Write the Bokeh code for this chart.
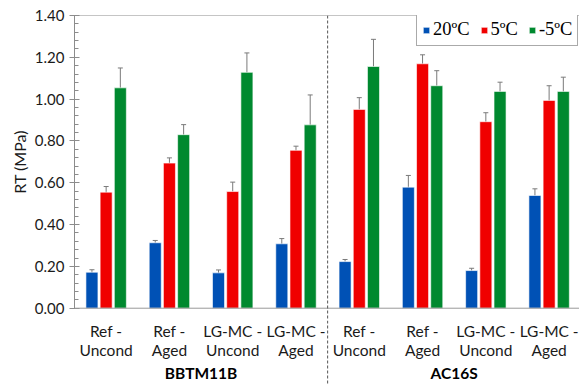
import numpy as np
from math import pi
from bokeh.plotting import figure
from bokeh.layouts import column, row
from bokeh.models import (ColumnDataSource, Whisker, TeeHead, Span, Range1d,
                          FixedTicker, NumeralTickFormatter)
from bokeh.core.properties import value
from bokeh.embed import file_html
from bokeh.resources import INLINE

# ---- data ----
groups = ["BBTM11B", "AC16S"]
conditions = ["Ref - Uncond", "Ref - Aged", "LG-MC - Uncond", "LG-MC - Aged",
              "Ref - Uncond", "Ref - Aged", "LG-MC - Uncond", "LG-MC - Aged"]
temps = ["20ºC", "5ºC", "-5ºC"]
rt_20 = [0.172, 0.313, 0.169, 0.308, 0.223, 0.579, 0.180, 0.539]
rt_5 = [0.555, 0.694, 0.558, 0.755, 0.951, 1.169, 0.892, 0.994]
rt_m5 = [1.054, 0.830, 1.128, 0.877, 1.156, 1.064, 1.037, 1.037]
err_20 = [0.012, 0.011, 0.014, 0.025, 0.010, 0.056, 0.011, 0.032]
err_5 = [0.027, 0.025, 0.045, 0.020, 0.056, 0.043, 0.043, 0.070]
err_m5 = [0.095, 0.048, 0.093, 0.143, 0.130, 0.072, 0.044, 0.068]
y_ticks = [0.0, 0.2, 0.4, 0.6, 0.8, 1.0, 1.2, 1.4]
y_minor = [round(i * 0.04, 2) for i in range(36)]
y_title = "RT (MPa)"

colors = ["#0051B5", "#F00000", "#00892F"]
series = [rt_20, rt_5, rt_m5]
errors = [err_20, err_5, err_m5]
y_max = y_ticks[-1]

x_range = Range1d(0, 7.98)

# ---- main plot ----
p = figure(width=549, height=320, output_backend="svg", toolbar_location=None,
           x_range=x_range, y_range=(-0.0588, y_max), x_axis_type=None,
           min_border_left=44, min_border_right=0, min_border_top=15,
           min_border_bottom=0)
p.outline_line_color = None
p.grid.visible = False

centers = np.arange(len(conditions)) + 0.5
offsets = [-0.2244, 0.0, 0.2244]
for vals, errs, col, off, lab in zip(series, errors, colors, offsets, temps):
    v = np.array(vals)
    e = np.array(errs)
    src = ColumnDataSource(dict(x=centers + off, top=v, upper=v + e, lower=v - e))
    p.vbar(x="x", top="top", width=0.19, source=src, fill_color=col,
           line_color="white", line_alpha=0.6, line_width=1, legend_label=lab)
    w = Whisker(source=src, base="x", upper="upper", lower="lower",
                line_color="#7a7a7a", line_width=1,
                upper_head=TeeHead(size=5, line_color="#7a7a7a", line_width=1),
                lower_head=TeeHead(size=5, line_color="#7a7a7a", line_width=1))
    p.add_layout(w)

p.add_layout(Span(location=y_max, dimension="width", line_color="#8c8c8c", line_width=1))
p.add_layout(Span(location=0, dimension="width", line_color="#9a9a9a", line_width=1))
p.add_layout(Span(location=4, dimension="height", line_color="#555555",
                  line_width=1, line_dash="3 2"))

ya = p.yaxis[0]
ya.bounds = (0, y_max)
ya.ticker = FixedTicker(ticks=y_ticks, minor_ticks=y_minor)
ya.formatter = NumeralTickFormatter(format="0.00")
ya.axis_line_color = "#8c8c8c"
ya.major_tick_line_color = "#8c8c8c"
ya.minor_tick_line_color = "#8c8c8c"
ya.major_tick_in = 5
ya.major_tick_out = 5
ya.minor_tick_in = 4
ya.minor_tick_out = 0
ya.major_label_standoff = 5
ya.major_label_text_font = "Lato"
ya.major_label_text_font_size = "15px"
ya.major_label_text_color = "#1a1a1a"

lg = p.legend[0]
lg.orientation = "horizontal"
lg.location = (342, 274)
lg.margin = 0
lg.padding = 5
lg.spacing = 10
lg.label_standoff = 3
lg.glyph_width = 8
lg.glyph_height = 8
lg.label_height = 18
lg.label_text_font = "Liberation Serif"
lg.label_text_font_size = "18.5px"
lg.label_text_color = "#000000"
lg.border_line_color = "#555555"
lg.border_line_width = 1
lg.background_fill_color = "white"
lg.background_fill_alpha = 1

# ---- category label strip ----
q = figure(width=549, height=64, output_backend="svg", toolbar_location=None,
           x_range=x_range, y_range=(-0.365, -0.0588), x_axis_type=None,
           y_axis_type=None, min_border_left=44, min_border_right=0,
           min_border_top=0, min_border_bottom=0)
q.outline_line_color = None
q.grid.visible = False
q.add_layout(Span(location=4, dimension="height", line_color="#555555",
                  line_width=1, line_dash="3 2"))

line1 = [c.split(" - ")[0] + " -" for c in conditions]
line2 = [c.split(" - ")[1] for c in conditions]
lab_src = ColumnDataSource(dict(x=centers, l1=line1, l2=line2))
q.text(x="x", y=-0.107, text="l1", source=lab_src, text_align="center",
       text_baseline="middle", text_font=value("Lato"), text_font_size="15.5px",
       text_color="#1a1a1a")
q.text(x="x", y=-0.198, text="l2", source=lab_src, text_align="center",
       text_baseline="middle", text_font=value("Lato"), text_font_size="15.5px",
       text_color="#1a1a1a")
grp_src = ColumnDataSource(dict(x=[2.0, 6.0], t=groups))
q.text(x="x", y=-0.311, text="t", source=grp_src, text_align="center",
       text_baseline="middle", text_font=value("Lato"), text_font_size="15.5px",
       text_font_style="bold", text_color="#000000")

# ---- y-axis title strip (shares the main plot's value scale) ----
t = figure(width=30, height=384, output_backend="svg", toolbar_location=None,
           x_range=(0, 30), y_range=(-0.365, 1.4718), x_axis_type=None,
           y_axis_type=None, min_border=0)
t.outline_line_color = None
t.grid.visible = False
t.text(x=[19], y=[y_max / 2], text=[y_title], angle=pi / 2, text_align="center",
       text_baseline="middle", text_font=value("Lato"), text_font_size="16px",
       text_color="#1a1a1a")

layout = row(t, column(p, q, spacing=0), spacing=0)
open("out.html", "w").write(file_html(layout, INLINE))
